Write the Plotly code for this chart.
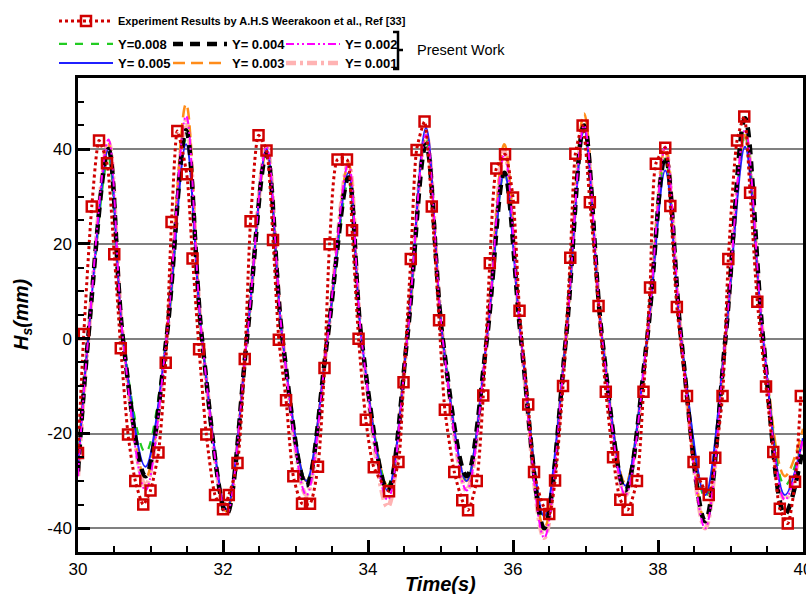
import plotly.graph_objects as go

# ---------------- data ----------------
exp_t = [30.00, 30.08, 30.19, 30.29, 30.40, 30.50, 30.59, 30.69, 30.79, 30.90,
         31.00, 31.11, 31.21, 31.29, 31.37, 31.50, 31.58, 31.67, 31.77, 31.89,
         32.00, 32.08, 32.20, 32.30, 32.38, 32.49, 32.60, 32.69, 32.77, 32.87,
         32.97, 33.09, 33.20, 33.31, 33.40, 33.47, 33.58, 33.71, 33.78, 33.87,
         33.97, 34.08, 34.29, 34.42, 34.49, 34.59, 34.67, 34.78, 34.88, 34.98,
         35.06, 35.19, 35.30, 35.38, 35.50, 35.59, 35.68, 35.77, 35.89, 36.00,
         36.09, 36.21, 36.29, 36.41, 36.50, 36.58, 36.69, 36.79, 36.86, 36.96,
         37.06, 37.18, 37.28, 37.38, 37.48, 37.58, 37.71, 37.80, 37.89, 37.97,
         38.10, 38.17, 38.26, 38.40, 38.49, 38.60, 38.70, 38.79, 38.89, 38.97,
         39.09, 39.19, 39.27, 39.37, 39.49, 39.59, 39.68, 39.79, 39.89, 39.97]
exp_h = [-24.1, 1.0, 27.9, 41.8, 37.0, 17.8, -2.0, -20.2, -30.0, -35.0,
         -32.0, -24.0, -5.1, 24.6, 43.8, 34.7, 16.9, -2.2, -20.2, -33.0,
         -36.0, -33.0, -26.2, -4.3, 24.8, 42.9, 39.7, 20.8, -0.2, -13.0,
         -29.0, -34.8, -34.8, -27.0, -6.2, 19.9, 37.8, 37.8, 22.9, 0.0,
         -17.1, -27.1, -32.2, -26.0, -9.2, 16.8, 39.8, 45.8, 27.9, 3.9,
         -15.0, -28.1, -34.1, -36.2, -30.0, -12.0, 15.9, 35.9, 38.9, 29.8,
         5.9, -13.9, -28.1, -35.0, -37.0, -29.9, -10.0, 17.1, 39.0, 45.0,
         28.8, 6.9, -11.2, -25.0, -34.0, -36.1, -30.0, -11.2, 10.8, 36.9,
         40.3, 28.0, 6.7, -12.1, -26.0, -30.6, -33.0, -25.1, -12.1, 16.8,
         41.8, 46.9, 30.8, 7.8, -10.1, -23.9, -35.9, -39.0, -30.2, -12.1]

sim_t = [30.00, 30.14, 30.42, 30.62, 30.93, 31.22, 31.49, 31.71, 32.05, 32.33,
         32.60, 32.82, 33.15, 33.44, 33.73, 33.91, 34.27, 34.54, 34.80, 35.03,
         35.36, 35.64, 35.88, 36.11, 36.43, 36.73, 36.98, 37.23, 37.55, 37.85,
         38.10, 38.32, 38.65, 38.93, 39.20, 39.45, 39.75, 40.00]

h_y008 = [-26, 0, 38, 0, -24, 0, 42, 0, -36, 0, 39, 0, -30, 0, 33, 0, -31, 0, 42, 0,
          -30, 0, 35, 0, -38, 0, 44, 0, -31, 0, 38, 0, -33.5, 0, 43, 0, -31, -21]
h_y005 = [-27, 0, 40, 0, -27, 0, 41, 0, -36, 0, 40, 0, -30, 0, 35, 0, -32, 0, 44.5, 0,
          -30, 0, 35, 0, -37.5, 0, 44, 0, -31, 0, 35.5, 0, -33, 0, 40.5, 0, -33, -21]
h_y004 = [-28, 0, 40, 0, -29, 0, 44, 0, -37, 0, 39, 0, -31, 0, 34, 0, -32, 0, 41, 0,
          -29, 0, 35, 0, -40, 0, 45, 0, -32, 0, 38.5, 0, -38.5, 0, 46.5, 0, -37, -23]
h_y003 = [-27, 0, 41, 0, -29.5, 0, 49.5, 0, -36.5, 0, 39.5, 0, -30, 0, 37, 0, -31, 0, 43, 0,
          -30, 0, 41, 0, -40, 0, 47.5, 0, -30.5, 0, 40.5, 0, -38.5, 0, 43, 0, -29, -19]
h_y002 = [-29, 0, 42, 0, -32, 0, 47, 0, -37, 0, 40.5, 0, -33, 0, 37, 0, -34, 0, 43, 0,
          -32, 0, 39, 0, -42, 0, 45, 0, -33, 0, 40.5, 0, -40, 0, 44, 0, -34, -21]
h_y001 = [-29, 0, 41.5, 0, -31, 0, 46, 0, -37, 0, 40.5, 0, -33, 0, 37, 0, -35.5, 0, 43, 0,
          -32, 0, 39.5, 0, -42, 0, 45, 0, -33, 0, 40, 0, -40, 0, 43, 0, -34, -21]

x_ticks = [30, 32, 34, 36, 38, 40]
y_ticks = [-40, -20, 0, 20, 40]
y_ticktext = ["-40", "-20", "0", "20", "40"]

exp_name = "Experiment Results by A.H.S Weerakoon et al., Ref [33]"

# ---------------- figure ----------------
W, H = 806, 594
L, R, T, B = 78, 3, 78, 42
pw, ph = W - L - R, H - T - B

def px_x(px):
    return (px - L) / pw

def px_y(py):
    return (H - B - py) / ph

SANS = "Liberation Sans, Arial, sans-serif"

fig = go.Figure()

sims = [
    ("Y= 0.001", h_y001, dict(color="#ffb3b3", width=4.5, dash="10px,4px,3px,4px"), "legend7"),
    ("Y= 0.003", h_y003, dict(color="#ff8c1a", width=2.5, dash="12px,6px"), "legend5"),
    ("Y=0.008", h_y008, dict(color="#22cc22", width=2.2, dash="8px,8px"), "legend2"),
    ("Y= 0.005", h_y005, dict(color="#2020ff", width=2.0), "legend3"),
    ("Y= 0.004", h_y004, dict(color="#000000", width=4.5, dash="10px,7px"), "legend4"),
    ("Y= 0.002", h_y002, dict(color="#ff00ff", width=2.0, dash="8px,3px,2px,3px,2px,3px"), "legend6"),
]
for name, vals, ln, lg in sims:
    fig.add_trace(go.Scatter(x=sim_t, y=vals, mode="lines", name=name,
                             line=dict(shape="spline", smoothing=1.0, **ln),
                             legend=lg))

fig.add_trace(go.Scatter(x=exp_t, y=exp_h, mode="lines+markers", name=exp_name,
                         line=dict(color="#d00000", width=3, dash="dot",
                                   shape="spline", smoothing=0.6),
                         marker=dict(symbol="square-open", size=10,
                                     color="#d00000", line=dict(width=2.5, color="#d00000")),
                         legend="legend"))

def leg(px, py, size=13, weight="bold"):
    return dict(xref="container", yref="container", x=px / W, y=1 - py / H,
                xanchor="left", yanchor="middle", bgcolor="rgba(0,0,0,0)",
                borderwidth=0, itemwidth=54, visible=True,
                font=dict(family=SANS, size=size, color="black", weight=weight))

fig.update_layout(
    width=W, height=H, autosize=False, showlegend=True,
    margin=dict(l=L, r=R, t=T, b=B, pad=0, autoexpand=False),
    paper_bgcolor="white", plot_bgcolor="white",
    legend=leg(54, 21, size=11),
    legend2=leg(54, 44),
    legend3=leg(54, 63),
    legend4=leg(168, 44),
    legend5=leg(168, 63),
    legend6=leg(281, 44),
    legend7=leg(281, 63),
    xaxis=dict(range=[30, 40], tickvals=x_ticks, ticks="inside", ticklen=12,
               tickwidth=2.5, tickcolor="black", ticklabeloverflow="allow",
               minor=dict(dtick=0.5, ticks="inside", ticklen=6, tickwidth=1.5, tickcolor="black"),
               showgrid=False, zeroline=False, showline=True, linewidth=2.5,
               linecolor="black", mirror=True,
               tickfont=dict(family=SANS, size=17, color="black")),
    yaxis=dict(range=[-45, 55], tickvals=y_ticks, ticktext=y_ticktext,
               ticks="inside", ticklen=12,
               tickwidth=2.5, tickcolor="black",
               minor=dict(dtick=5, ticks="inside", ticklen=6, tickwidth=1.5, tickcolor="black"),
               showgrid=True, gridcolor="#808080", gridwidth=2, zeroline=False,
               showline=True, linewidth=2.5, linecolor="black", mirror=True,
               tickfont=dict(family=SANS, size=17, color="black")),
)

# axis titles
fig.add_annotation(text="<b><i>Time(s)</i></b>", xref="paper", yref="paper",
                   x=0.5, y=px_y(584), xanchor="center", yanchor="middle",
                   showarrow=False, font=dict(family=SANS, size=20, color="black"))
fig.add_annotation(text="<b><i>H<sub>s</sub>(mm)</i></b>", xref="paper", yref="paper",
                   x=px_x(22), y=px_y(315), xanchor="center", yanchor="middle",
                   textangle=-90, showarrow=False,
                   font=dict(family=SANS, size=20, color="black"))

# bracket grouping the simulation legend entries
bx, btop, bbot, bmid = 398, 32, 69, 50
path = (f"M {px_x(bx-5)},{px_y(btop)} L {px_x(bx)},{px_y(btop)} "
        f"L {px_x(bx)},{px_y(bbot)} L {px_x(bx-5)},{px_y(bbot)} "
        f"M {px_x(bx)},{px_y(bmid)} L {px_x(bx+5)},{px_y(bmid)}")
fig.add_shape(type="path", path=path, xref="paper", yref="paper",
              line=dict(color="black", width=2.5))
fig.add_annotation(text="Present Work", xref="paper", yref="paper",
                   x=px_x(415), y=px_y(50), xanchor="left", yanchor="middle",
                   showarrow=False,
                   font=dict(family=SANS, size=14.5, color="black"))

fig.write_html("out.html", config={"displayModeBar": False},
               post_script="document.body.style.margin='0px';document.body.style.overflow='hidden';")
